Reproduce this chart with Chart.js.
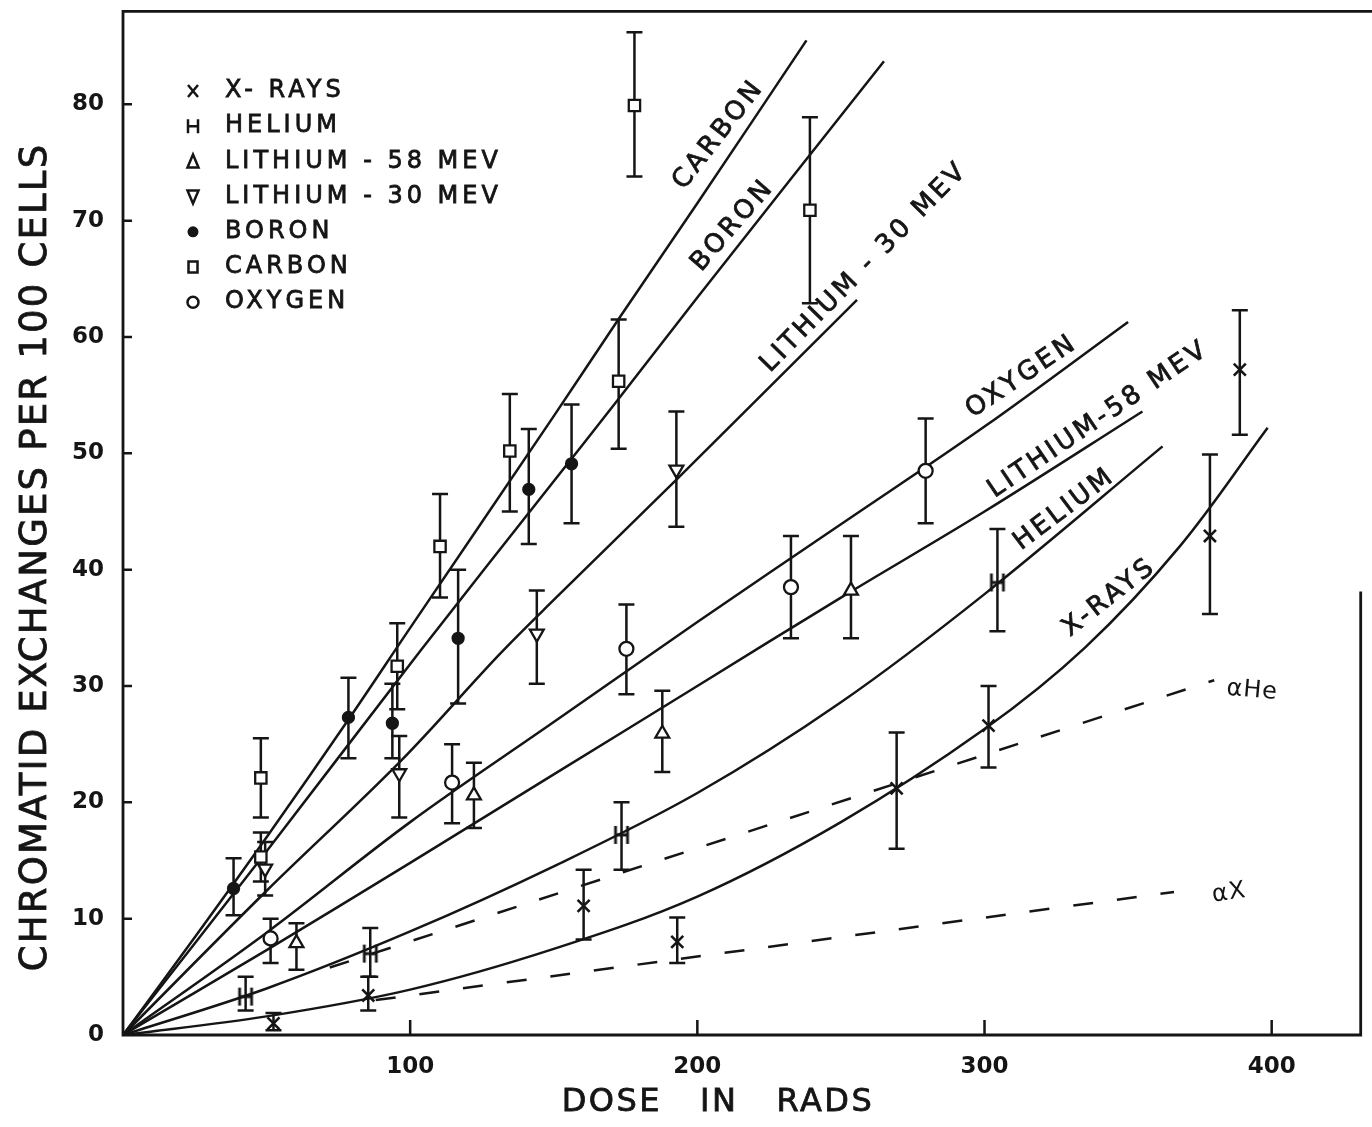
<!DOCTYPE html>
<html>
<head>
<meta charset="utf-8">
<script src="https://cdn.jsdelivr.net/npm/chart.js@4.4.1/dist/chart.umd.min.js"></script>
<style>
  html, body { margin: 0; padding: 0; background: #fff; }
  #wrap { width: 1372px; height: 1127px; }
</style>
</head>
<body>
<div id="wrap"><canvas id="chart" width="1372" height="1127"></canvas></div>
<script>
const INK = "#151515";
const FONT = "'DejaVu Sans', 'Liberation Sans', sans-serif";

// axes
const xTicks = [100, 200, 300, 400];
const yTicks = [0, 10, 20, 30, 40, 50, 60, 70, 80];

// measured points: dose, exchanges, bottom and top of the error bar
const xrayDose = [52.4, 85.4, 160.4, 193, 269.4, 301.4, 378.5, 388.9];
const xrayVal  = [1.0, 3.4, 11.1, 8.0, 21.2, 26.6, 42.9, 57.2];
const xrayLo   = [0.4, 2.1, 8.2, 6.2, 16.0, 23.0, 36.2, 51.6];
const xrayHi   = [1.9, 5.0, 14.2, 10.1, 26.0, 30.0, 49.9, 62.3];

const heliumDose = [42.7, 86.1, 173.6, 304.5];
const heliumVal  = [3.3, 7.0, 17.2, 38.9];
const heliumLo   = [2.1, 5.0, 14.2, 34.7];
const heliumHi   = [5.0, 9.2, 20.0, 43.5];

const li58Dose = [60.4, 122.2, 187.8, 253.5];
const li58Val  = [7.9, 20.6, 25.9, 38.2];
const li58Lo   = [5.6, 17.8, 22.6, 34.1];
const li58Hi   = [9.6, 23.4, 29.6, 42.9];

const li30Dose = [49.5, 96.2, 144.1, 192.7];
const li30Val  = [14.3, 22.5, 34.5, 48.6];
const li30Lo   = [12.0, 18.7, 30.2, 43.7];
const li30Hi   = [16.6, 25.7, 38.2, 53.6];

const boronDose = [38.5, 78.5, 93.8, 116.7, 141.3, 156.2];
const boronVal  = [12.6, 27.3, 26.8, 34.1, 46.9, 49.1];
const boronLo   = [10.3, 23.8, 23.8, 28.5, 42.2, 44.0];
const boronHi   = [15.2, 30.7, 30.2, 40.0, 52.1, 54.2];

const carbonDose = [48, 48, 95.5, 110.4, 134.7, 172.6, 178.1, 239.2];
const carbonVal  = [22.1, 15.3, 31.7, 42.0, 50.2, 56.2, 79.9, 70.9];
const carbonLo   = [18.7, 13.2, 28.0, 37.6, 45.0, 50.4, 73.8, 62.9];
const carbonHi   = [25.5, 17.4, 35.4, 46.5, 55.1, 61.5, 86.2, 78.9];

const oxygenDose = [51.4, 114.6, 175.3, 232.6, 279.5];
const oxygenVal  = [8.3, 21.7, 33.2, 38.5, 48.5];
const oxygenLo   = [6.2, 18.2, 29.3, 34.1, 44.0];
const oxygenHi   = [10.0, 25.0, 37.0, 42.9, 53.0];

// fitted curves
const carbonFitX = [0, 25, 50, 79, 100, 150, 173, 200, 238];
const carbonFitY = [0, 8.4, 17.0, 27.3, 35.0, 53.2, 61.7, 71.5, 85.5];
const boronFitX = [0, 50, 103.5, 150, 172, 200, 265];
const boronFitY = [0, 15.8, 33.0, 47.6, 54.5, 63.4, 83.7];
const li30FitX = [0, 50, 96.5, 131, 150, 193, 255.6];
const li30FitY = [0, 12.4, 23.5, 32.7, 37.4, 47.8, 63.2];
const oxygenFitX = [0, 50, 100, 150, 200, 250, 300, 350];
const oxygenFitY = [0, 8.8, 18.3, 26.9, 35.5, 43.9, 52.3, 61.3];
const li58FitX = [0, 50, 100, 150, 200, 250, 300, 355];
const li58FitY = [0, 7.3, 14.8, 22.4, 30.0, 37.6, 45.0, 53.6];
const heliumFitX = [0, 50, 100, 150, 200, 250, 300, 362];
const heliumFitY = [0, 4.0, 8.9, 14.5, 20.8, 28.6, 37.9, 50.6];
const xrayFitX = [0, 50, 100, 150, 200, 250, 300, 335, 368, 398.6];
const xrayFitY = [0, 1.6, 3.9, 7.4, 11.9, 18.3, 26.3, 33.3, 42.0, 52.2];

// linear (alpha) components, dashed
const alphaHeX = [72, 380];
const alphaHeY = [5.8, 30.5];
const alphaXX = [88, 366];
const alphaXY = [3.0, 12.3];

// text written along the curves: [text, dose, value, angle in degrees]
const curveLabels = [
  ["CARBON", 207.5, 77.4, -52],
  ["BORON", 212.4, 69.6, -49],
  ["LITHIUM - 30 MEV", 258.2, 66.0, -45.5],
  ["OXYGEN", 313.0, 56.6, -34],
  ["LITHIUM-58 MEV", 339.7, 52.9, -34],
  ["HELIUM", 327.9, 45.2, -37],
  ["X-RAYS", 343.5, 37.6, -38],
];
const alphaLabels = [
  ["αHe", 393.2, 29.6, 5],
  ["αX", 385.2, 12.2, -8],
];

const legendNames = ["X- RAYS", "HELIUM", "LITHIUM - 58 MEV", "LITHIUM - 30 MEV", "BORON", "CARBON", "OXYGEN"];
const legendKinds = ["x", "H", "up", "down", "dot", "square", "ring"];

function pts(xs, ys) {
  return xs.map((x, i) => ({ x: x, y: ys[i] }));
}

function heliumGlyph() {
  const c = document.createElement("canvas");
  c.width = 18;
  c.height = 20;
  const g = c.getContext("2d");
  g.strokeStyle = INK;
  g.lineWidth = 2.8;
  g.beginPath();
  g.moveTo(3, 1); g.lineTo(3, 19);
  g.moveTo(15, 1); g.lineTo(15, 19);
  g.moveTo(3, 10); g.lineTo(15, 10);
  g.stroke();
  return c;
}

function markerSet(label, xs, ys, lo, hi, style) {
  return Object.assign({
    label: label,
    data: pts(xs, ys),
    errLo: lo,
    errHi: hi,
    showLine: false,
    pointBackgroundColor: "#fff",
    pointBorderColor: INK,
    pointBorderWidth: 2.3,
    pointHoverRadius: 0,
  }, style);
}

function curveSet(label, xs, ys, dash) {
  return {
    label: label,
    data: pts(xs, ys),
    showLine: true,
    borderColor: INK,
    borderWidth: 2.5,
    borderDash: dash || [],
    pointRadius: 0,
    pointHoverRadius: 0,
    tension: 0.35,
    fill: false,
  };
}

const datasets = [
  markerSet("X-rays", xrayDose, xrayVal, xrayLo, xrayHi, { pointStyle: "crossRot", pointRadius: 8.5, pointBorderWidth: 2.6 }),
  markerSet("Helium", heliumDose, heliumVal, heliumLo, heliumHi, { pointStyle: heliumGlyph(), pointRadius: 9 }),
  markerSet("Lithium 58", li58Dose, li58Val, li58Lo, li58Hi, { pointStyle: "triangle", pointRadius: 8 }),
  markerSet("Lithium 30", li30Dose, li30Val, li30Lo, li30Hi, { pointStyle: "triangle", pointRotation: 180, pointRadius: 8 }),
  markerSet("Boron", boronDose, boronVal, boronLo, boronHi, { pointStyle: "circle", pointRadius: 5.5, pointBackgroundColor: INK }),
  markerSet("Carbon", carbonDose, carbonVal, carbonLo, carbonHi, { pointStyle: "rect", pointRadius: 8 }),
  markerSet("Oxygen", oxygenDose, oxygenVal, oxygenLo, oxygenHi, { pointStyle: "circle", pointRadius: 7 }),
  curveSet("Carbon fit", carbonFitX, carbonFitY),
  curveSet("Boron fit", boronFitX, boronFitY),
  curveSet("Lithium 30 fit", li30FitX, li30FitY),
  curveSet("Oxygen fit", oxygenFitX, oxygenFitY),
  curveSet("Lithium 58 fit", li58FitX, li58FitY),
  curveSet("Helium fit", heliumFitX, heliumFitY),
  curveSet("X-ray fit", xrayFitX, xrayFitY),
  curveSet("alpha He", alphaHeX, alphaHeY, [20, 24]),
  curveSet("alpha X", alphaXX, alphaXY, [20, 24]),
];

// error bars under the markers
const errorBars = {
  id: "errorBars",
  beforeDatasetsDraw(chart) {
    const ctx = chart.ctx;
    const xs = chart.scales.x, ys = chart.scales.y;
    ctx.save();
    ctx.strokeStyle = INK;
    ctx.lineWidth = 2.5;
    chart.data.datasets.forEach(ds => {
      if (!ds.errLo) return;
      ds.data.forEach((p, i) => {
        const px = xs.getPixelForValue(p.x);
        const lo = ys.getPixelForValue(ds.errLo[i]);
        const hi = ys.getPixelForValue(ds.errHi[i]);
        ctx.beginPath();
        ctx.moveTo(px, lo); ctx.lineTo(px, hi);
        ctx.moveTo(px - 8, lo); ctx.lineTo(px + 8, lo);
        ctx.moveTo(px - 8, hi); ctx.lineTo(px + 8, hi);
        ctx.stroke();
      });
    });
    ctx.restore();
  }
};

function drawSymbol(ctx, kind, x, y) {
  ctx.beginPath();
  if (kind === "x") {
    ctx.moveTo(x - 5, y - 6); ctx.lineTo(x + 5, y + 6);
    ctx.moveTo(x + 5, y - 6); ctx.lineTo(x - 5, y + 6);
    ctx.stroke();
  } else if (kind === "H") {
    ctx.moveTo(x - 5, y - 7); ctx.lineTo(x - 5, y + 7);
    ctx.moveTo(x + 5, y - 7); ctx.lineTo(x + 5, y + 7);
    ctx.moveTo(x - 5, y); ctx.lineTo(x + 5, y);
    ctx.stroke();
  } else if (kind === "up") {
    ctx.moveTo(x, y - 7); ctx.lineTo(x + 5.5, y + 6); ctx.lineTo(x - 5.5, y + 6); ctx.closePath();
    ctx.stroke();
  } else if (kind === "down") {
    ctx.moveTo(x, y + 7); ctx.lineTo(x + 5.5, y - 6); ctx.lineTo(x - 5.5, y - 6); ctx.closePath();
    ctx.stroke();
  } else if (kind === "dot") {
    ctx.arc(x, y, 5.5, 0, Math.PI * 2);
    ctx.fill();
  } else if (kind === "square") {
    ctx.rect(x - 4.5, y - 5.5, 9, 11);
    ctx.stroke();
  } else if (kind === "ring") {
    ctx.arc(x, y, 5.5, 0, Math.PI * 2);
    ctx.stroke();
  }
}

// text with wider letters and a thin outline, like the lettering guide
function spacedText(ctx, text, x, y, angle, spacing, weight) {
  ctx.save();
  ctx.translate(x, y);
  ctx.rotate(angle * Math.PI / 180);
  ctx.letterSpacing = spacing + "px";
  ctx.fillText(text, 0, 0);
  if (weight) {
    ctx.lineWidth = weight;
    ctx.strokeText(text, 0, 0);
  }
  ctx.restore();
}

// frame, inward ticks, titles, curve names, key
const paper = {
  id: "paper",
  afterDraw(chart) {
    const ctx = chart.ctx;
    const xs = chart.scales.x, ys = chart.scales.y;
    const a = chart.chartArea;
    ctx.save();
    ctx.strokeStyle = INK;
    ctx.fillStyle = INK;
    ctx.lineCap = "square";

    ctx.lineWidth = 2.8;
    ctx.beginPath();
    ctx.moveTo(a.left, a.top); ctx.lineTo(a.left, a.bottom); ctx.lineTo(a.right, a.bottom);
    ctx.moveTo(a.left, a.top); ctx.lineTo(chart.width, a.top);
    ctx.moveTo(a.right, ys.getPixelForValue(38)); ctx.lineTo(a.right, a.bottom);
    ctx.stroke();

    ctx.lineWidth = 2.5;
    ctx.lineCap = "butt";
    ctx.beginPath();
    yTicks.forEach(v => {
      const py = ys.getPixelForValue(v);
      if (v > 0) { ctx.moveTo(a.left, py); ctx.lineTo(a.left + 9, py); }
    });
    xTicks.forEach(v => {
      const px = xs.getPixelForValue(v);
      ctx.moveTo(px, a.bottom); ctx.lineTo(px, a.bottom - 15);
    });
    ctx.stroke();

    ctx.textAlign = "center";
    ctx.textBaseline = "middle";

    ctx.font = "37px " + FONT;
    spacedText(ctx, "CHROMATID EXCHANGES PER 100 CELLS", 36, 557, -90, 2.2, 0.8);
    ctx.font = "32px " + FONT;
    spacedText(ctx, "DOSE   IN   RADS", 718, 1103, 0, 2.5, 0.8);

    ctx.font = "26px " + FONT;
    curveLabels.forEach(l => {
      spacedText(ctx, l[0], xs.getPixelForValue(l[1]), ys.getPixelForValue(l[2]), l[3], 3.3, 0.8);
    });
    ctx.font = "24px " + FONT;
    alphaLabels.forEach(l => {
      spacedText(ctx, l[0], xs.getPixelForValue(l[1]), ys.getPixelForValue(l[2]), l[3], 1);
    });

    // key
    ctx.font = "24px " + FONT;
    ctx.textAlign = "left";
    ctx.lineWidth = 2.5;
    legendNames.forEach((name, i) => {
      const y = 91 + i * 35.2;
      drawSymbol(ctx, legendKinds[i], 193, y);
      spacedText(ctx, name, 225, y, 0, 4, 0.8);
    });
    ctx.restore();
  }
};

new Chart(document.getElementById("chart"), {
  type: "scatter",
  data: { datasets: datasets },
  options: {
    responsive: false,
    animation: false,
    events: [],
    layout: { padding: { left: 0, right: 7, top: 8, bottom: 0 } },
    plugins: {
      legend: { display: false },
      tooltip: { enabled: false },
    },
    scales: {
      x: {
        type: "linear",
        min: 0,
        max: 431,
        grid: { display: false },
        border: { display: false },
        ticks: { color: INK, padding: 10, font: { family: FONT, size: 23, weight: "bold" } },
        afterBuildTicks: s => { s.ticks = xTicks.map(v => ({ value: v })); },
        afterFit: s => { s.height = 92; s.paddingLeft = 0; s.paddingRight = 0; },
      },
      y: {
        type: "linear",
        min: 0,
        max: 88,
        grid: { display: false },
        border: { display: false },
        ticks: { color: INK, padding: 11, font: { family: FONT, size: 23, weight: "bold" } },
        afterBuildTicks: s => { s.ticks = yTicks.map(v => ({ value: v })); },
        afterFit: s => { s.width = 123; s.paddingTop = 0; s.paddingBottom = 0; },
      },
    },
  },
  plugins: [errorBars, paper],
});
</script>
</body>
</html>
